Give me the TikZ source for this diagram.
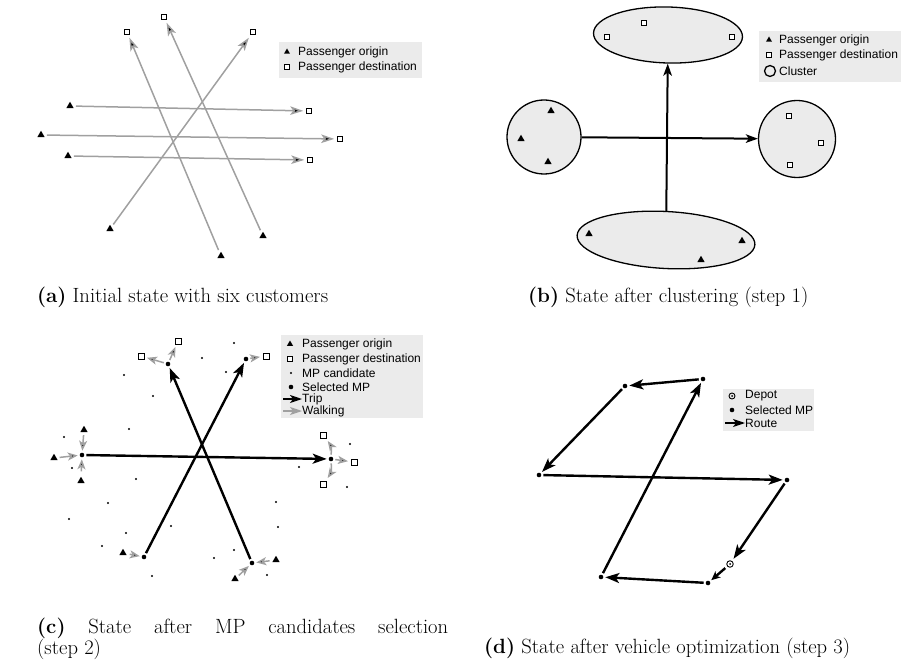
\documentclass[tikz,border=0pt]{standalone}
\usepackage{fontspec}
\usetikzlibrary{arrows.meta,shapes.geometric}
\newfontfamily\legendfont{Liberation Sans}
\definecolor{boxgray}{HTML}{EBEBEB}
\definecolor{walkgray}{HTML}{A0A0A0}

\begin{document}
\begin{tikzpicture}[x=1pt, y=-1pt,
    orig/.style={regular polygon, regular polygon sides=3, fill=black, inner sep=0pt, minimum size=8.5pt, outer sep=3pt},
    dest/.style={rectangle, draw, fill=white, line width=1pt, inner sep=0pt, minimum size=5.5pt, outer sep=3pt},
    cand/.style={circle, fill=black, inner sep=0pt, minimum size=2.4pt},
    selmp/.style={circle, fill=black, inner sep=0pt, minimum size=4.6pt, outer sep=2pt},
    depot/.style={circle, draw, line width=0.9pt, inner sep=0pt, minimum size=6.5pt, outer sep=3pt,
        path picture={\fill (path picture bounding box.center) circle (1pt);}},
    cluster/.style={ellipse, draw, line width=1.3pt, fill=boxgray, inner sep=0pt},
    odline/.style={draw=walkgray, line width=1.5pt, -{Stealth[length=13pt, width=8.5pt, inset=3pt]}},
    walk/.style={draw=walkgray, line width=1.5pt, -{Stealth[length=10pt, width=8pt, inset=2.5pt]}},
    trip/.style={draw=black, line width=2.4pt, -{Stealth[length=14pt, width=10pt, inset=3.5pt]}},
    link/.style={draw=black, line width=2pt, -{Stealth[length=12pt, width=8.5pt, inset=3pt]}},
    legtext/.style={font=\legendfont\fontsize{12}{14}\selectfont, anchor=west, inner sep=0pt},
    captext/.style={font=\fontsize{20.6}{20}\selectfont, inner sep=0pt}
  ]
    \useasboundingbox (0,0) rectangle (912,663);

    % (a) initial state
    \node[orig] at (70, 106)  (ao1) {};
    \node[orig] at (41, 135)  (ao2) {};
    \node[orig] at (68, 156)  (ao3) {};
    \node[orig] at (110, 229) (ao4) {};
    \node[orig] at (221, 256) (ao5) {};
    \node[orig] at (263, 236) (ao6) {};
    \node[dest] at (164, 17)  (ad1) {};
    \node[dest] at (127, 32)  (ad2) {};
    \node[dest] at (253, 32)  (ad3) {};
    \node[dest] at (309, 111) (ad4) {};
    \node[dest] at (340, 139) (ad5) {};
    \node[dest] at (310, 160) (ad6) {};

    \draw[odline] (ao1) edge (ad4);
    \draw[odline] (ao2) edge (ad5);
    \draw[odline] (ao3) edge (ad6);
    \draw[odline] (ao4) edge (ad3);
    \draw[odline] (ao5) edge (ad2);
    \draw[odline] (ao6) edge (ad1);

    \fill[boxgray] (279, 42) rectangle (422, 78);
    \node[orig, minimum size=7pt] at (287, 52) (alo) {};
    \node[dest, minimum size=5pt]  at (287, 67) (ald) {};
    \node[legtext] at (298, 52) (alot) {Passenger origin};
    \node[legtext] at (298, 67) (aldt) {Passenger destination};

    % (b) clustering
    \node[cluster, minimum width=149pt, minimum height=56pt, rotate=-1.5] at (668, 35)  (btop) {};
    \node[cluster, minimum width=178pt, minimum height=57pt, rotate=-3]   at (666, 240) (bbot) {};
    \node[cluster, circle, minimum size=74pt] at (544, 137) (blft) {};
    \node[cluster, circle, minimum size=77pt] at (797, 139) (brgt) {};

    \node[dest] at (644, 23)  (bd1) {};
    \node[dest] at (607, 37)  (bd2) {};
    \node[dest] at (732, 37)  (bd3) {};
    \node[dest] at (789, 116) (bd4) {};
    \node[dest] at (821, 143) (bd5) {};
    \node[dest] at (790, 165) (bd6) {};
    \node[orig] at (551, 111) (bo1) {};
    \node[orig] at (521, 139) (bo2) {};
    \node[orig] at (548, 162) (bo3) {};
    \node[orig] at (589, 234) (bo4) {};
    \node[orig] at (742, 241) (bo5) {};
    \node[orig] at (701, 260) (bo6) {};

    \draw[link] (blft) edge (brgt);
    \draw[link] (bbot) edge (btop);

    \fill[boxgray] (759, 31) rectangle (901, 82);
    \node[orig, minimum size=7pt] at (769, 40) (blo) {};
    \node[dest, minimum size=5pt]  at (769, 55) (bld) {};
    \node[circle, draw, line width=1.3pt, minimum size=11pt, inner sep=0pt] at (770, 71) (blc) {};
    \node[legtext] at (779, 40) (blot) {Passenger origin};
    \node[legtext] at (779, 55) (bldt) {Passenger destination};
    \node[legtext] at (779, 71) (blct) {Cluster};

    % (c) MP candidates
    \foreach \x/\y [count=\i] in {234/343, 202/358, 226/372, 124/375, 153/396, 129/429,
        64/437, 72/468, 350/444, 299/467, 347/487, 136/479, 108/503, 69/519, 276/502,
        171/526, 278/527, 126/533, 102/546, 234/550, 214/558, 152/576, 267/575}
      \node[cand] at (\x, \y) (cc\i) {};

    \node[selmp] at (168, 364) (cm1) {};
    \node[selmp] at (246, 359) (cm2) {};
    \node[selmp] at (82, 455)  (cm3) {};
    \node[selmp] at (331, 459) (cm4) {};
    \node[selmp] at (144, 557) (cm5) {};
    \node[selmp] at (252, 563) (cm6) {};

    \node[orig] at (84, 430)  (co1) {};
    \node[orig] at (54, 458)  (co2) {};
    \node[orig] at (81, 481)  (co3) {};
    \node[orig] at (123, 553) (co4) {};
    \node[orig] at (276, 560) (co5) {};
    \node[orig] at (235, 579) (co6) {};
    \node[dest, minimum size=6pt] at (141, 356) (cd1) {};
    \node[dest, minimum size=6pt] at (178, 341) (cd2) {};
    \node[dest, minimum size=6pt] at (266, 356) (cd3) {};
    \node[dest, minimum size=6pt] at (323, 435) (cd4) {};
    \node[dest, minimum size=6pt] at (354, 462) (cd5) {};
    \node[dest, minimum size=6pt] at (323, 484) (cd6) {};

    \draw[trip] (cm5) edge (cm2);
    \draw[trip] (cm6) edge (cm1);
    \draw[trip] (cm3) edge (cm4);

    \draw[walk] (co1) edge (cm3);
    \draw[walk] (co2) edge (cm3);
    \draw[walk] (co3) edge (cm3);
    \draw[walk] (co4) edge (cm5);
    \draw[walk] (co5) edge (cm6);
    \draw[walk] (co6) edge (cm6);
    \draw[walk] (cm1) edge (cd1);
    \draw[walk] (cm1) edge (cd2);
    \draw[walk] (cm2) edge (cd3);
    \draw[walk] (cm4) edge[bend right=20] (cd4);
    \draw[walk] (cm4) edge (cd5);
    \draw[walk] (cm4) edge[bend left=20] (cd6);

    \fill[boxgray] (281, 335) rectangle (423, 418);
    \node[orig, minimum size=7pt] at (290, 344) (clo) {};
    \node[dest, minimum size=5pt]  at (290, 359) (cld) {};
    \node[cand]  at (291, 373) (clc) {};
    \node[selmp] at (291, 387) (clm) {};
    \coordinate (cltrip) at (283, 399);
    \coordinate (clwalk) at (283, 411);
    \node[legtext] at (302, 344) (clot) {Passenger origin};
    \node[legtext] at (302, 359) (cldt) {Passenger destination};
    \node[legtext] at (302, 373) (clct) {MP candidate};
    \node[legtext] at (302, 387) (clmt) {Selected MP};
    \node[legtext] at (302, 399) (cltt) {Trip};
    \node[legtext] at (302, 411) (clwt) {Walking};
    \draw[trip, line width=1.6pt, -{Stealth[length=12pt, width=8pt, inset=3pt]}] (cltrip) -- (cltt.west);
    \draw[walk, line width=1.2pt, -{Stealth[length=12pt, width=8pt, inset=3pt]}] (clwalk) -- (clwt.west);

    % (d) vehicle route
    \node[selmp] at (703, 379) (dm1) {};
    \node[selmp] at (625, 386) (dm2) {};
    \node[selmp] at (539, 475) (dm3) {};
    \node[selmp] at (787, 480) (dm4) {};
    \node[selmp] at (708, 583) (dm5) {};
    \node[selmp] at (601, 577) (dm6) {};
    \node[depot] at (730, 564) (dep) {};

    \draw[trip, -{Stealth[length=9pt, width=8pt, inset=2.5pt]}] (dep) edge (dm5);
    \draw[trip] (dm5) edge (dm6);
    \draw[trip] (dm6) edge (dm1);
    \draw[trip] (dm1) edge (dm2);
    \draw[trip] (dm2) edge (dm3);
    \draw[trip] (dm3) edge (dm4);
    \draw[trip] (dm4) edge (dep);

    \fill[boxgray] (723, 389) rectangle (814, 431);
    \node[depot, minimum size=6pt] at (732, 396) (dld) {};
    \node[selmp] at (732, 410) (dlm) {};
    \coordinate (dlroute) at (725, 423);
    \node[legtext] at (745, 396) (dldt) {Depot};
    \node[legtext] at (745, 410) (dlmt) {Selected MP};
    \node[legtext] at (745, 423) (dlrt) {Route};
    \draw[trip, line width=1.6pt, -{Stealth[length=12pt, width=8pt, inset=3pt]}] (dlroute) -- (dlrt.west);

    % Captions
    \node[captext, anchor=base west] at (37, 302)  (capa) {\textbf{(a)} Initial state with six customers};
    \node[captext, anchor=base west] at (528, 302) (capb) {\textbf{(b)} State after clustering (step~1)};
    \node[captext, anchor=base west, text width=411pt, align=justify] at (37, 633) (capc)
      {\textbf{(c)} State after MP candidates selection\linebreak (step~2)};
    \node[captext, anchor=base west] at (484, 653) (capd) {\textbf{(d)} State after vehicle optimization (step~3)};

  \end{tikzpicture}
\end{document}
